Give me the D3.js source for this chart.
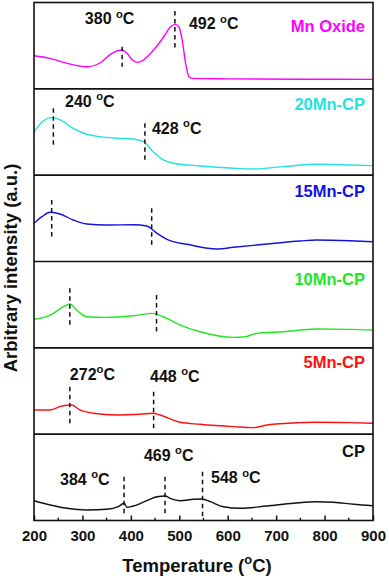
<!DOCTYPE html>
<html><head><meta charset="utf-8">
<script src="https://cdn.jsdelivr.net/npm/d3@7"></script>
<style>body{margin:0;background:#fff}svg{display:block}</style>
</head><body>
<svg id="c" width="389" height="578"></svg>
<script>
// ---- data ----
const seriesNames = ["Mn Oxide", "20Mn-CP", "15Mn-CP", "10Mn-CP", "5Mn-CP", "CP"];
const seriesColors = ["#ff00ff", "#22e2e2", "#1212e0", "#22e622", "#ff1010", "#111111"];

const mnOxideT = [200,233,268,309,337,358,382,392,403,413,426,447,468,482,492,499,506,513,520,527,600,750,900];
const mnOxideI = [33.1,30.5,25.5,22.1,26.1,34.5,38.8,35.5,28.8,26.5,28.8,38.8,52.1,62.1,64.5,62.1,48.8,25.5,12.1,10.5,10,9.6,9.5];

const mn20T = [200,219,236.5,254,281,309,336,371,405,426,446,467,488,543,612,653,715,784,852,900];
const mn20I = [43.5,54.2,57.5,55.2,46.9,40.9,38.5,36.9,36.2,33.5,23.5,15.2,11.9,9.2,6.9,6.2,8.5,10.9,10.2,9.5];

const mn15T = [200,216.5,233.5,254,281,309,350,405,433,454,481,516,578,612,681,750,784,852,900];
const mn15I = [38.2,44.8,49.2,47.5,41.5,37.5,36.5,36.8,35.5,28.2,20.8,17.2,12.5,14.2,17.5,20.5,21.5,20.8,19.8];

const mn10T = [200,233.5,261,274.5,288,309,350,405,446,467,502,543,612,636,660,715,784,852,900];
const mn10I = [28.5,32.8,41.1,43.8,37.8,31.1,30.5,32.1,34.5,31.1,22.8,16.1,10.5,11.1,14.5,16.1,18.8,18.5,17.8];

const mn5T = [200,233.5,257.5,278,295,323,371,419,446,460,502,543,612,653,681,750,784,852,900];
const mn5I = [24.2,24.2,28.2,29.2,24.2,20.9,19.2,19.9,20.9,19.2,11.9,9.9,7.5,6.5,9.2,11.5,11.9,11.5,10.9];

const cpT = [200,233.5,268,309,350,374,386,392,405,433,454,471,481,502,529,547,564,591,626,681,736,784,819,860,900];
const cpI = [19.8,15.5,12.2,10.5,11.2,13.8,17.2,13.2,14.5,19.8,23.8,24.5,22.2,19.8,21.2,21.5,18.8,13.8,12.2,14.5,17.2,18.8,18.2,16.2,14.8];

// dashed peak markers: [temperature, low intensity, high intensity]
const mnOxideMarks = [[382,22.1,42.1],[491,38.8,77.8]];
const mn20Marks = [[240,28.5,66.9],[429,15.2,51.9]];
const mn15Marks = [[236.5,23.2,61.5],[443,14.8,53.2]];
const mn10Marks = [[274,19.5,59.5],[453,13.5,52.8]];
const mn5Marks = [[274,9.2,47.5],[447,4.2,42.5]];
const cpMarks = [[386,5.5,43.8],[470.5,5.5,43.8],[548,3.8,48.8]];

// peak temperature labels
const mnOxideLabels = ["380", "492"];
const mn20Labels = ["240", "428"];
const mn15Labels = [];
const mn10Labels = [];
const mn5Labels = ["272", "448"];
const cpLabels = ["384", "469", "548"];

const xTicks = [200,300,400,500,600,700,800,900];
const xMinorTicks = [250,350,450,550,650,750,850];

// ---- layout (label anchors in data units: temperature, intensity) ----
const labelAnchors = [
  [[305,64.5,true],[520,59.5,true]],
  [[264,68.2,true],[443.6,41.2,true]],
  [],
  [],
  [[274,54.2,false],[439.5,52.5,true]],
  [[253.7,35.5,true],[427,59.5,true],[565.5,37.2,true]]
];
const nameBaselines = [56.5, 65.2, 64.8, 62.8, 65.9, 63.8];

const allT = [mnOxideT, mn20T, mn15T, mn10T, mn5T, cpT];
const allI = [mnOxideI, mn20I, mn15I, mn10I, mn5I, cpI];
const allMarks = [mnOxideMarks, mn20Marks, mn15Marks, mn10Marks, mn5Marks, cpMarks];
const allLabels = [mnOxideLabels, mn20Labels, mn15Labels, mn10Labels, mn5Labels, cpLabels];

const FONT = "'Liberation Sans', Arial, Helvetica, sans-serif";
const svg = d3.select("#c");
const pLeft = 34, pRight = 373, pTop = 2.5, pBottom = 520.5;
const H = (pBottom - pTop) / 6;
const x = d3.scaleLinear().domain([200, 900]).range([pLeft, pRight]);

function addDegreeText(sel, num, space) {
  sel.append("tspan").text(num + (space ? " " : ""));
  sel.append("tspan").attr("font-size", "0.7em").attr("dy", "-0.6em").text("o");
  sel.append("tspan").attr("dy", "0.42em").attr("font-size", "1em").text("C");
}

seriesNames.forEach((name, i) => {
  const y = d3.scaleLinear().domain([0, H]).range([pTop + (i + 1) * H, pTop + i * H]);
  const g = svg.append("g");
  const pts = allT[i].map((t, k) => [t, allI[i][k]]);
  const line = d3.line().x(d => x(d[0])).y(d => y(d[1])).curve(d3.curveMonotoneX);
  g.append("path").datum(pts).attr("d", line)
    .attr("fill", "none").attr("stroke", seriesColors[i]).attr("stroke-width", 1.4)
    .attr("stroke-linejoin", "round");
  g.selectAll("line.mark").data(allMarks[i]).join("line")
    .attr("x1", d => x(d[0])).attr("x2", d => x(d[0]))
    .attr("y1", d => y(d[2])).attr("y2", d => y(d[1]))
    .attr("stroke", "#111").attr("stroke-width", 1.5).attr("stroke-dasharray", "4.5,3.5");
  allLabels[i].forEach((lab, k) => {
    const a = labelAnchors[i][k];
    const t = g.append("text").attr("x", x(a[0])).attr("y", y(a[1]))
      .attr("font-family", FONT).attr("font-weight", "bold").attr("font-size", 16).attr("fill", "#111");
    addDegreeText(t, lab, a[2]);
  });
  g.append("text").attr("x", x(883.5)).attr("y", y(nameBaselines[i]))
    .attr("text-anchor", "end").attr("font-family", FONT).attr("font-weight", "bold")
    .attr("font-size", 16.5).attr("fill", seriesColors[i]).text(name);
  if (i > 0) {
    svg.append("line").attr("x1", pLeft).attr("x2", pRight)
      .attr("y1", pTop + i * H).attr("y2", pTop + i * H)
      .attr("stroke", "#111").attr("stroke-width", 1.6);
  }
});

// frame
svg.append("rect").attr("x", pLeft).attr("y", pTop).attr("width", pRight - pLeft).attr("height", pBottom - pTop)
  .attr("fill", "none").attr("stroke", "#111").attr("stroke-width", 1.6);

// x axis
const ax = svg.append("g").attr("transform", `translate(0,${pBottom})`)
  .call(d3.axisBottom(x).tickValues(xTicks).tickSizeInner(-5).tickSizeOuter(0).tickPadding(9.5).tickFormat(d3.format("d")));
ax.select(".domain").remove();
ax.selectAll(".tick line").attr("stroke", "#111").attr("stroke-width", 1.5);
ax.selectAll(".tick text").attr("font-family", FONT).attr("font-weight", "bold").attr("font-size", 15).attr("fill", "#111");
svg.append("g").selectAll("line").data(xMinorTicks).join("line")
  .attr("x1", d => x(d)).attr("x2", d => x(d)).attr("y1", pBottom).attr("y2", pBottom - 2.7)
  .attr("stroke", "#111").attr("stroke-width", 1.4);

// axis titles
const xt = svg.append("text").attr("x", 197).attr("y", 571.5).attr("text-anchor", "middle")
  .attr("font-family", FONT).attr("font-weight", "bold").attr("font-size", 18.5).attr("fill", "#111");
xt.append("tspan").text("Temperature (");
xt.append("tspan").attr("font-size", "0.7em").attr("dy", "-0.6em").text("o");
xt.append("tspan").attr("dy", "0.42em").attr("font-size", "1em").text("C)");

svg.append("text").attr("transform", "translate(16.5,268) rotate(-90)").attr("text-anchor", "middle")
  .attr("font-family", FONT).attr("font-weight", "bold").attr("font-size", 18.5).attr("fill", "#111")
  .text("Arbitrary intensity (a.u.)");
</script>
</body></html>
